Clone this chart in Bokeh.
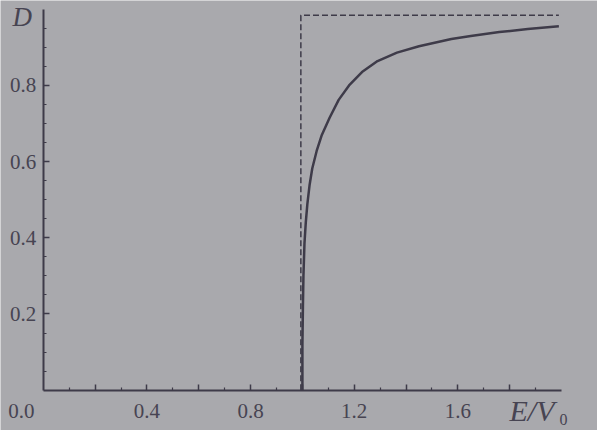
from bokeh.plotting import figure
from bokeh.models import FixedTicker, Label, Range1d
from bokeh.embed import file_html
from bokeh.resources import INLINE

# ---- data ----
E_over_V0 = [1.0, 1.0, 1.002, 1.004, 1.008, 1.013, 1.019, 1.028, 1.038, 1.055,
             1.075, 1.105, 1.14, 1.18, 1.23, 1.29, 1.365, 1.45, 1.575, 1.65, 1.76,
             1.87, 1.99]
D_quantum = [0.0, 0.12, 0.22, 0.30, 0.386, 0.44, 0.488, 0.54, 0.582, 0.628,
             0.67, 0.715, 0.762, 0.80, 0.835, 0.864, 0.886, 0.903, 0.922, 0.930, 0.940,
             0.948, 0.955]
E_classical = [0.994, 0.994, 1.99]
D_classical = [0.0, 0.984, 0.984]

x_major = [0.2, 0.4, 0.6, 0.8, 1.0, 1.2, 1.4, 1.6, 1.8]
x_minor = [0.1, 0.3, 0.5, 0.7, 0.9, 1.1, 1.3, 1.5, 1.7, 1.9]
x_labels = {0.2: "", 0.4: "0.4", 0.6: "", 0.8: "0.8", 1.0: "", 1.2: "1.2",
            1.4: "", 1.6: "1.6", 1.8: ""}
y_major = [0.2, 0.4, 0.6, 0.8]
y_minor = [0.05, 0.1, 0.15, 0.25, 0.3, 0.35, 0.45, 0.5, 0.55, 0.65, 0.7, 0.75,
           0.85, 0.9, 0.95]
y_labels = {0.2: "0.2", 0.4: "0.4", 0.6: "0.6", 0.8: "0.8"}
origin_label = "0.0"
y_title = "D"
x_title = "E/V"
x_title_sub = "0"

BG = "#a9a9ad"
INK = "#3e3b49"
TXT = "#474452"
FONT = "Liberation Serif"

p = figure(width=597, height=430,
           x_range=Range1d(-0.1654, 2.1391), y_range=Range1d(-0.1058, 1.0229),
           output_backend="svg", toolbar_location=None,
           min_border_left=0, min_border_right=0, min_border_top=0, min_border_bottom=0)
p.background_fill_color = BG
p.border_fill_color = BG
p.outline_line_color = None
p.grid.visible = False

p.line(E_classical, D_classical, line_color=INK, line_width=1.5, line_dash="6 3")
p.line(E_over_V0, D_quantum, line_color=INK, line_width=2.5, line_join="round")

for ax in (p.xaxis[0], p.yaxis[0]):
    ax.fixed_location = 0
    ax.axis_line_color = INK
    ax.axis_line_width = 2
    ax.major_tick_line_color = INK
    ax.minor_tick_line_color = INK
    ax.major_tick_line_width = 1.5
    ax.minor_tick_line_width = 1.2
    ax.major_tick_in = 6
    ax.major_tick_out = 0
    ax.minor_tick_in = 3
    ax.minor_tick_out = 0
    ax.major_label_text_font = FONT
    ax.major_label_text_font_size = "21px"
    ax.major_label_text_color = TXT

p.xaxis[0].bounds = (0, 2.0)
p.yaxis[0].bounds = (0, 1.0)
p.xaxis[0].ticker = FixedTicker(ticks=x_major, minor_ticks=x_minor)
p.xaxis[0].major_label_overrides = x_labels
p.xaxis[0].major_label_standoff = 14
p.yaxis[0].ticker = FixedTicker(ticks=y_major, minor_ticks=y_minor)
p.yaxis[0].major_label_overrides = y_labels
p.yaxis[0].major_label_standoff = 7

p.add_layout(Label(x=0, y=0, text=origin_label, x_offset=-22, y_offset=-14,
                   text_align="center", text_baseline="top",
                   text_font=FONT, text_font_size="21px", text_color=TXT))
p.add_layout(Label(x=0, y=1.0, text=y_title, x_offset=-21, y_offset=-8,
                   text_align="center", text_baseline="middle",
                   text_font=FONT, text_font_style="italic", text_font_size="27px",
                   text_color=TXT))
p.add_layout(Label(x=2.0, y=0, text=x_title, x_offset=-7, y_offset=-20,
                   text_align="right", text_baseline="middle",
                   text_font=FONT, text_font_style="italic", text_font_size="30px",
                   text_color=TXT))
p.add_layout(Label(x=2.0, y=0, text=x_title_sub, x_offset=2, y_offset=-29,
                   text_align="center", text_baseline="middle",
                   text_font=FONT, text_font_size="16px", text_color=TXT))

open("out.html", "w").write(file_html(p, INLINE))
